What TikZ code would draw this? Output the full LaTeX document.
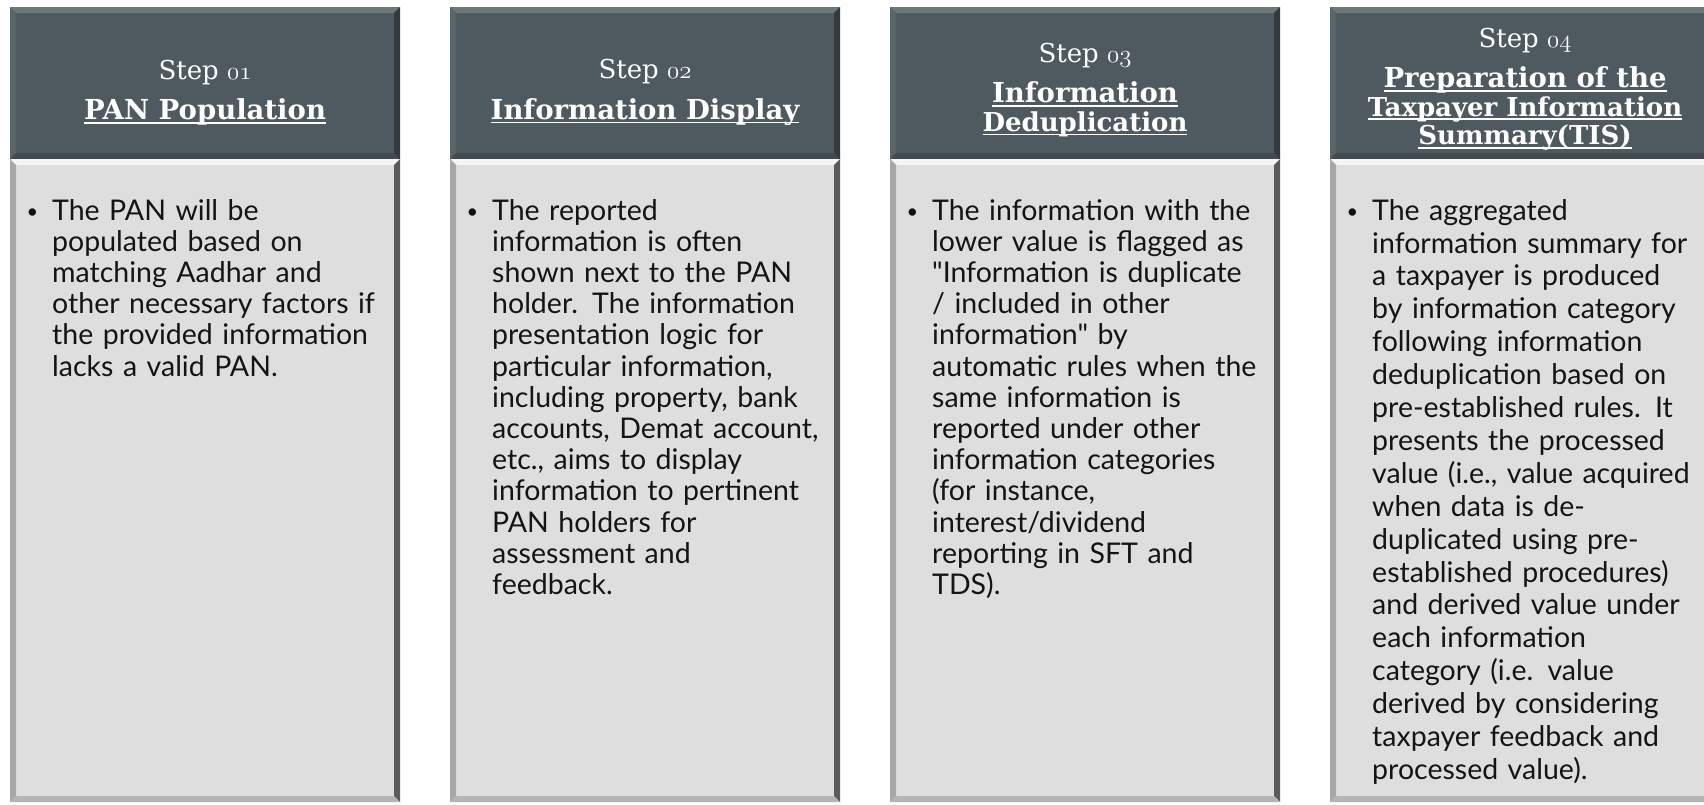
\documentclass[tikz,border=0pt]{standalone}
\usepackage{fontspec}
\newfontfamily\bodyfont{Lato}
\newfontfamily\headfont{DejaVu Serif}
\usetikzlibrary{positioning}

\definecolor{headfill}{HTML}{4F5A60}
\definecolor{headlight}{HTML}{6C777C}
\definecolor{headside}{HTML}{5A656A}
\definecolor{headdark}{HTML}{33393D}
\definecolor{headlow}{HTML}{414A4F}
\definecolor{bodyfill}{HTML}{DDDEDD}
\definecolor{bodylight}{HTML}{F5F5F5}
\definecolor{bodyside}{HTML}{A6A8A7}
\definecolor{bodydark}{HTML}{5A5B5B}
\definecolor{bodylow}{HTML}{B4B5B4}

\newcommand\stepno[1]{{\usefont{OML}{cmm}{m}{it}#1}}
\newcommand\ulin[1]{\setbox0\hbox{#1}\rlap{\rule[-4pt]{\wd0}{1.6pt}}\box0}
\newcommand\bul{\llap{\raisebox{2pt}{\fontsize{20}{20}\selectfont\textbullet}\hspace{14pt}}}
% bevelled edges round a box: node, top, left, right, bottom
\newcommand\bevel[5]{%
  \fill[#2] (#1.north west) -- (#1.north east) -- ([shift={(-6,6)}]#1.north east) -- ([shift={(6,6)}]#1.north west) -- cycle;
  \fill[#3] (#1.north west) -- ([shift={(6,6)}]#1.north west) -- ([shift={(6,-6)}]#1.south west) -- (#1.south west) -- cycle;
  \fill[#4] (#1.north east) -- (#1.south east) -- ([shift={(-6,-6)}]#1.south east) -- ([shift={(-6,6)}]#1.north east) -- cycle;
  \fill[#5] (#1.south west) -- (#1.south east) -- ([shift={(-6,-6)}]#1.south east) -- ([shift={(6,-6)}]#1.south west) -- cycle;}

\begin{document}
\begin{tikzpicture}[x=1pt,y=-1pt,
    headbox/.style={rectangle,fill=headfill,minimum width=390pt,minimum height=152pt,inner sep=0pt,outer sep=0pt},
    bodybox/.style={rectangle,fill=bodyfill,minimum width=390pt,minimum height=643pt,inner sep=0pt,outer sep=0pt},
    headtext/.style={text=white,font=\headfont\fontsize{26}{28.5}\selectfont,align=center,inner sep=0pt},
    bodytext/.style={text=black!92,font=\bodyfont\fontsize{28.5}{31.2}\selectfont,align=left,inner sep=0pt,anchor=north west,text width=345pt}]

\clip (0,0) rectangle (1704,804);
\fill[white] (0,0) rectangle (1704,804);

\node[headbox,anchor=north west] (h1) at (10,7) {};
\node[headbox,right=50pt of h1] (h2) {};
\node[headbox,right=50pt of h2] (h3) {};
\node[headbox,right=50pt of h3] (h4) {};

\node[bodybox,below=0pt of h1] (b1) {};
\node[bodybox,below=0pt of h2] (b2) {};
\node[bodybox,below=0pt of h3] (b3) {};
\node[bodybox,below=0pt of h4] (b4) {};

\bevel{h1}{headlight}{headside}{headdark}{headlow}
\bevel{h2}{headlight}{headside}{headdark}{headlow}
\bevel{h3}{headlight}{headside}{headdark}{headlow}
\bevel{h4}{headlight}{headside}{headdark}{headlow}
\bevel{b1}{bodylight}{bodyside}{bodydark}{bodylow}
\bevel{b2}{bodylight}{bodyside}{bodydark}{bodylow}
\bevel{b3}{bodylight}{bodyside}{bodydark}{bodylow}
\bevel{b4}{bodylight}{bodyside}{bodydark}{bodylow}

% step titles
\node[headtext] (s1) at ([shift={(0,9.5)}]h1.center) {Step \stepno{01}\\[12pt]\fontsize{27.5}{28.5}\selectfont\bfseries\ulin{PAN Population}};
\node[headtext] (s2) at ([shift={(0,9.5)}]h2.center) {Step \stepno{02}\\[12pt]\fontsize{27.5}{28.5}\selectfont\bfseries\ulin{Information Display}};
\node[headtext] (s3) at ([shift={(0,7)}]h3.center) {Step \stepno{03}\\[12pt]\fontsize{27.5}{28.5}\selectfont\bfseries\ulin{Information}\\\bfseries\ulin{Deduplication}};
\node[headtext] (s4) at ([shift={(0,6)}]h4.center) {Step \stepno{04}\\[12pt]\fontsize{27.5}{28.5}\selectfont\bfseries\ulin{Preparation of the}\\\bfseries\ulin{Taxpayer Information}\\\bfseries\ulin{Summary(TIS)}};

% step descriptions
\node[bodytext] (t1) at ([shift={(42,40)}]b1.north west) {\bul The PAN will be\\
  populated based on\\ matching Aadhar and\\ other necessary factors if\\
  the provided information\\ lacks a valid PAN.};
\node[bodytext] (t2) at ([shift={(42,40)}]b2.north west) {\bul The reported\\
  information is often\\ shown next to the PAN\\ holder. The information\\
  presentation logic for\\ particular information,\\ including property, bank\\
  accounts, Demat account,\\ etc., aims to display\\ information to pertinent\\
  PAN holders for\\ assessment and\\ feedback.};
\node[bodytext] (t3) at ([shift={(42,40)}]b3.north west) {\bul The information with the\\
  lower value is flagged as\\ "Information is duplicate\\ / included in other\\
  information" by\\ automatic rules when the\\ same information is\\
  reported under other\\ information categories\\ (for instance,\\
  interest/dividend\\ reporting in SFT and\\ TDS).};
\node[bodytext,font=\bodyfont\fontsize{28.5}{32.9}\selectfont] (t4) at ([shift={(42,40)}]b4.north west) {\bul The aggregated\\
  information summary for\\ a taxpayer is produced\\ by information category\\
  following information\\ deduplication based on\\ pre-established rules. It\\
  presents the processed\\ value (i.e., value acquired\\ when data is de-\\
  duplicated using pre-\\ established procedures)\\ and derived value under\\
  each information\\ category (i.e. value\\ derived by considering\\
  taxpayer feedback and\\ processed value).};
\end{tikzpicture}
\end{document}
